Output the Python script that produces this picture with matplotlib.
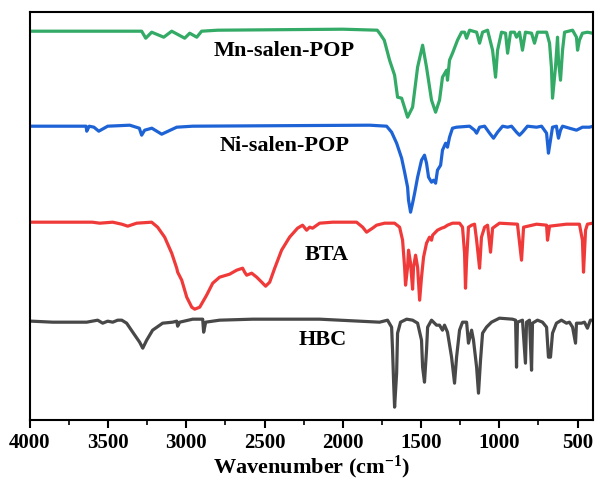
import matplotlib
matplotlib.use("Agg")
import matplotlib.pyplot as plt
from matplotlib.ticker import MultipleLocator

plt.rcParams['font.family'] = ['Liberation Serif', 'DejaVu Serif']
plt.rcParams['font.weight'] = 'bold'
plt.rcParams['mathtext.fontset'] = 'custom'
plt.rcParams['mathtext.rm'] = 'Liberation Serif:bold'
plt.rcParams['mathtext.default'] = 'rm'

# Mn-salen-POP (green)
mn_wn = [4000, 3300, 3285, 3259, 3221, 3144, 3093, 3010, 2978, 2933, 2902, 2800, 2000, 1780,
         1765, 1735, 1701, 1669, 1650, 1624, 1586, 1554, 1522, 1490, 1465, 1433, 1407, 1382,
         1363, 1337, 1331, 1318, 1299, 1267, 1241, 1222, 1209, 1190, 1145, 1126, 1107, 1075,
         1043, 1024, 1011, 986, 960, 947, 928, 903, 890, 871, 852, 833, 794, 775, 756, 698,
         679, 667, 660, 641, 628, 622, 609, 596, 583, 532, 507, 500, 488, 469, 437, 405]
mn_y = [399, 399, 399, 392, 398, 393, 399, 392, 397, 393, 399, 400, 401, 400,
        397, 390, 370, 355, 333, 332, 313, 323, 363, 385, 363, 330, 318, 330,
        353, 360, 350, 370, 377, 390, 398, 398, 392, 400, 398, 387, 398, 400,
        380, 353, 380, 398, 397, 377, 398, 398, 393, 398, 380, 398, 397, 387, 398, 398,
        387, 363, 332, 363, 393, 370, 350, 380, 398, 400, 393, 380, 390, 397, 398, 397]

# Ni-salen-POP (blue)
ni_wn = [4000, 3700, 3640, 3636, 3620, 3590, 3559, 3502, 3361, 3300, 3285, 3266, 3220, 3157,
         3061, 2959, 1829, 1720, 1688, 1656, 1624, 1605, 1586, 1580, 1567, 1554, 1541, 1522,
         1497, 1478, 1465, 1452, 1433, 1420, 1407, 1395, 1375, 1363, 1343, 1331, 1318, 1299,
         1273, 1190, 1158, 1145, 1126, 1094, 1062, 1037, 1011, 979, 947, 922, 890, 871, 852,
         820, 762, 730, 698, 692, 686, 673, 660, 635, 628, 622, 609, 596, 552, 507, 469, 424, 400]
ni_y = [304, 304, 304, 299, 304, 303, 299, 304, 305, 302, 295, 300, 302, 296,
        303, 304, 305, 304, 298, 287, 272, 258, 243, 230, 218, 227, 237, 253,
        270, 275, 267, 253, 248, 250, 247, 260, 265, 280, 287, 283, 293, 302,
        303, 304, 300, 297, 303, 304, 297, 292, 298, 304, 303, 304, 298, 295, 298,
        304, 303, 304, 297, 287, 277, 290, 303, 304, 297, 292, 300, 304, 302, 300, 303, 303, 304]

# BTA (red)
bta_wn = [4000, 3600, 3553, 3470, 3412, 3374, 3317, 3221, 3183, 3138, 3093, 3061, 3055, 3029,
          2997, 2965, 2946, 2914, 2870, 2831, 2787, 2723, 2678, 2640, 2627, 2614, 2582, 2550,
          2518, 2493, 2467, 2435, 2391, 2340, 2289, 2257, 2231, 2212, 2193, 2148, 2065, 1912,
          1873, 1848, 1810, 1784, 1733, 1688, 1669, 1637, 1618, 1605, 1599, 1586, 1580, 1567,
          1554, 1548, 1535, 1522, 1509, 1497, 1484, 1465, 1446, 1433, 1426, 1395, 1369, 1350,
          1331, 1299, 1254, 1235, 1222, 1216, 1209, 1197, 1177, 1158, 1145, 1126, 1114, 1094,
          1075, 1056, 1043, 999, 884, 858, 845, 762, 698, 692, 679, 571, 488, 469, 462, 449, 437, 405]
bta_y = [208, 208, 207, 208, 206, 204, 207, 208, 203, 193, 177, 162, 158, 150,
         133, 123, 121, 123, 135, 147, 153, 156, 160, 162, 158, 155, 157, 153,
         148, 144, 148, 162, 180, 193, 202, 205, 200, 203, 202, 207, 208, 208,
         203, 198, 202, 205, 207, 207, 207, 203, 190, 163, 145, 163, 180, 167,
         141, 163, 175, 163, 130, 153, 173, 187, 193, 190, 195, 200, 202, 203,
         205, 207, 207, 203, 177, 142, 170, 203, 205, 206, 190, 162, 193, 203,
         205, 178, 202, 207, 206, 170, 203, 206, 205, 190, 204, 206, 206, 190, 158, 200, 206, 207]

# HBC (gray)
hbc_wn = [4000, 3987, 3853, 3636, 3566, 3534, 3502, 3470, 3438, 3412, 3381, 3342, 3298, 3278,
          3253, 3215, 3151, 3087, 3061, 3055, 3042, 2959, 2895, 2889, 2876, 2787, 2576, 2148,
          1765, 1714, 1688, 1682, 1675, 1669, 1656, 1650, 1631, 1592, 1554, 1522, 1497, 1490,
          1478, 1465, 1458, 1433, 1401, 1382, 1363, 1350, 1331, 1305, 1286, 1273, 1254, 1235,
          1209, 1197, 1177, 1165, 1145, 1133, 1120, 1107, 1082, 1050, 999, 916, 896, 890, 884,
          852, 833, 826, 807, 794, 788, 756, 724, 698, 686, 673, 660, 635, 603, 571, 552, 532,
          513, 507, 475, 456, 437, 418, 405]
hbc_y = [109, 109, 108, 108, 110, 107, 109, 108, 110, 110, 107, 98, 88, 82,
         90, 100, 107, 108, 109, 104, 108, 111, 111, 98, 108, 110, 111, 111,
         108, 110, 103, 80, 47, 23, 57, 97, 108, 111, 110, 107, 90, 63,
         48, 80, 103, 110, 105, 105, 100, 105, 98, 73, 47, 73, 100, 108,
         108, 87, 100, 90, 63, 37, 70, 97, 103, 108, 112, 111, 110, 63, 108,
         110, 67, 108, 110, 60, 107, 110, 108, 103, 73, 73, 97, 107, 110, 107, 108, 103,
         87, 107, 107, 108, 102, 110, 110]

names = ["Mn-salen-POP", "Ni-salen-POP", "BTA", "HBC"]
colors = ["#33AA66", "#1E63D6", "#F03A3A", "#484848"]
label_x = [2372, 2372, 2103, 2129]
label_y = [379, 284, 175, 90]

fig = plt.figure(figsize=(5.95, 4.88), dpi=100)
ax = fig.add_axes([0.050, 0.139, 0.947, 0.836])

series = [(mn_wn, mn_y), (ni_wn, ni_y), (bta_wn, bta_y), (hbc_wn, hbc_y)]
for (wn, y), c in zip(series, colors):
    ax.plot(wn, y, color=c, lw=2.3, solid_joinstyle='round')

for name, lx, ly in zip(names, label_x, label_y):
    ax.text(lx, ly, name, ha='center', va='center', fontsize=16, fontweight='bold')

ax.set_xlim(4000, 400)
ax.set_ylim(10, 418)
ax.xaxis.set_major_locator(MultipleLocator(500))
ax.xaxis.set_minor_locator(MultipleLocator(250))
ax.set_yticks([])
ax.tick_params(axis='x', which='major', length=6, width=1.5, labelsize=15, pad=3)
ax.tick_params(axis='x', which='minor', length=3.5, width=1.2)
for lbl in ax.get_xticklabels():
    lbl.set_fontweight('bold')
for sp in ax.spines.values():
    sp.set_linewidth(1.5)
ax.set_xlabel("Wavenumber (cm$^{-1}$)", fontsize=16, fontweight='bold', labelpad=1)

fig.savefig("out.png", dpi=100)
